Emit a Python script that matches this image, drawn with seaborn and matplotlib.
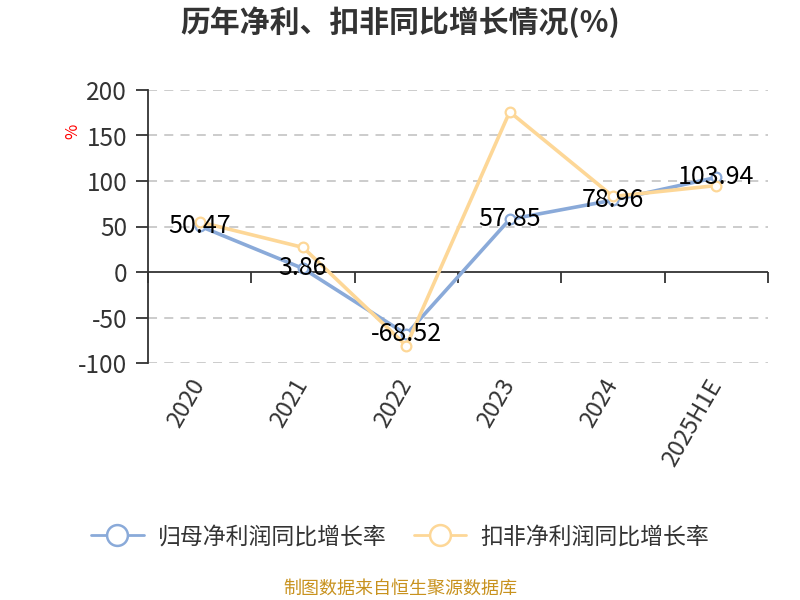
import pandas as pd
import matplotlib
matplotlib.use("Agg")
import matplotlib.pyplot as plt
import seaborn as sns

years = ["2020", "2021", "2022", "2023", "2024", "2025H1E"]
net_profit_growth = [50.47, 3.86, -68.52, 57.85, 78.96, 103.94]
deducted_growth = [55.0, 27.0, -81.0, 176.0, 83.0, 95.0]
series_names = ["归母净利润同比增长率", "扣非净利润同比增长率"]
series_colors = ["#8aaad9", "#fdd797"]
y_ticks = [-100, -50, 0, 50, 100, 150, 200]

sns.set_theme(style="white")
plt.rcParams["font.family"] = ["Noto Sans CJK SC", "DejaVu Sans"]
plt.rcParams["axes.unicode_minus"] = False

fig = plt.figure(figsize=(8, 6), dpi=100)
ax = fig.add_axes([0.185, 0.395, 0.775, 0.455])

handles = []
for name, values, color in zip(series_names, [net_profit_growth, deducted_growth], series_colors):
    df = pd.DataFrame({"year": years, "value": values})
    sns.lineplot(data=df, x="year", y="value", color=color, sort=False, ax=ax,
                 marker="o", markersize=7, markerfacecolor="white",
                 markeredgecolor=color, markeredgewidth=1.6, linewidth=2.6, label=name)
    handles.append(plt.Line2D([], [], color=color, linewidth=2, marker="o", markersize=15,
                              markerfacecolor="white", markeredgecolor=color,
                              markeredgewidth=1.8))

ax.set_xlim(-0.5, len(years) - 0.5)
ax.set_ylim(-100, 200)
ax.set_yticks(y_ticks)
ax.set_yticklabels([str(v) for v in y_ticks], fontsize=17.5, color="#333333")
ax.tick_params(axis="y", length=9, width=1.3, color="#333333", direction="out", left=True, pad=6)
ax.set_xticks(range(len(years)))
ax.set_xticklabels(years, rotation=60, ha="right", va="center", rotation_mode="anchor",
                   fontsize=17, color="#333333")
ax.tick_params(axis="x", length=0, pad=13)
ax.set_xlabel("")
ax.set_ylabel("")

for v in y_ticks:
    if v != 0:
        ax.axhline(v, color="#c8c8c8", linestyle=(0, (5, 4)), linewidth=1.3, zorder=0)
ax.axhline(0, color="#333333", linewidth=1.3, zorder=1)

for side in ["top", "right", "bottom"]:
    ax.spines[side].set_visible(False)
ax.spines["left"].set_color("#333333")
ax.spines["left"].set_linewidth(1.3)

sec = ax.secondary_xaxis(1 / 3)
sec.set_xticks([i - 0.5 for i in range(len(years) + 1)])
sec.set_xticklabels([])
sec.tick_params(axis="x", length=8, width=1.3, color="#333333", direction="out")
sec.spines["bottom"].set_visible(False)

for i, v in enumerate(net_profit_growth):
    ax.text(i, v, f"{v:.2f}", ha="center", va="center", fontsize=18, color="black", zorder=5)

ax.legend_.remove()
fig.legend(handles, series_names, loc="center", bbox_to_anchor=(0.5, 1 - 537 / 600), ncol=2,
           frameon=False, fontsize=16.5, handlelength=2.3, handletextpad=0.6, columnspacing=1.2,
           labelcolor="#333333")

fig.text(73 / 800, 1 - 131 / 600, "%", color="red", fontsize=12, rotation=90,
         ha="center", va="center")
fig.suptitle("历年净利、扣非同比增长情况(%)", fontsize=21.5, fontweight="bold", color="#333333",
             y=1 - 22 / 600, va="center")
fig.text(0.5, 1 - 589 / 600, "制图数据来自恒生聚源数据库", color="#c8921e", fontsize=13,
         ha="center", va="center")

fig.savefig("out.png", dpi=100)
